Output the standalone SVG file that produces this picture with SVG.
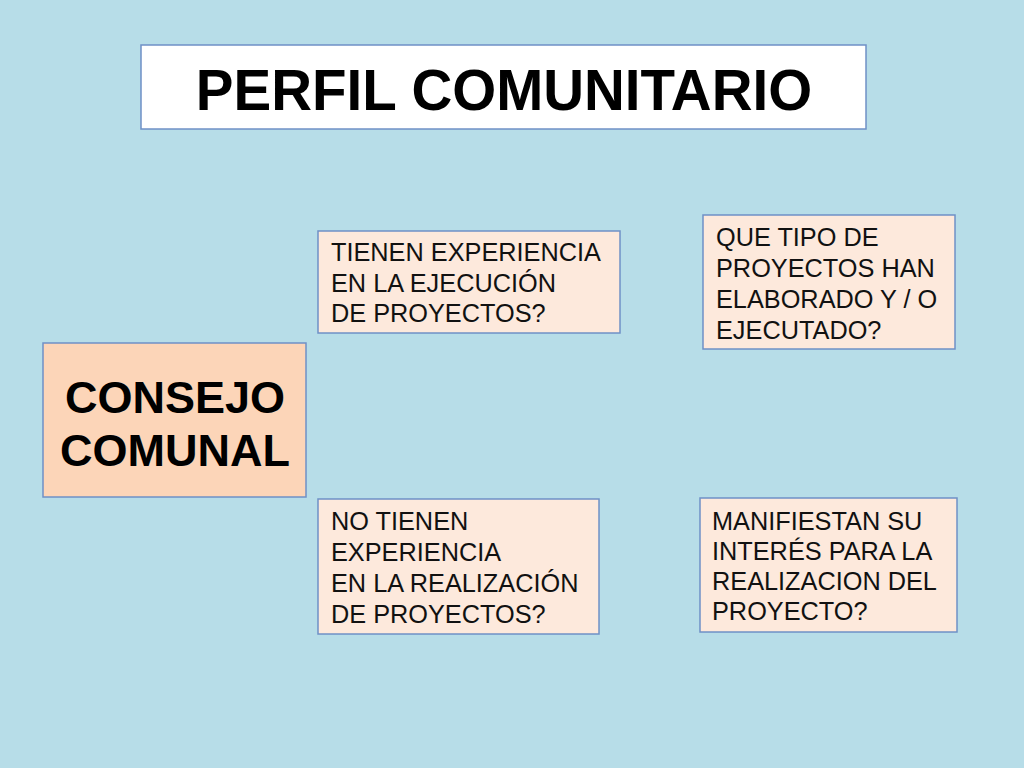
<svg xmlns="http://www.w3.org/2000/svg" width="1024" height="768" viewBox="0 0 1024 768">
<style>
.box{fill:#fde9dc;stroke:#6f90c6;stroke-width:1.5}
.t{font-family:"Liberation Sans",Arial,sans-serif;font-size:25.3px;fill:#111}
.b{font-family:"Liberation Sans",Arial,sans-serif;font-weight:bold;fill:#000}
</style>
<rect width="1024" height="768" fill="#b7dde8"/>
<g id="title">
<rect x="141" y="45" width="725" height="84" fill="#ffffff" stroke="#6f90c6" stroke-width="1.5"/>
<text class="b" x="504" y="110" font-size="56.5" text-anchor="middle">PERFIL COMUNITARIO</text>
</g>
<g id="consejo">
<rect x="43" y="343" width="263" height="154" fill="#fcd5b8" stroke="#6f90c6" stroke-width="1.5"/>
<text class="b" x="175" y="413" font-size="45" text-anchor="middle">CONSEJO</text>
<text class="b" x="175" y="466" font-size="45" text-anchor="middle">COMUNAL</text>
</g>
<g id="experiencia">
<rect class="box" x="318" y="231" width="302" height="102"/>
<text class="t" x="331" y="261">TIENEN EXPERIENCIA</text>
<text class="t" x="331" y="292">EN LA EJECUCIÓN</text>
<text class="t" x="331" y="322">DE PROYECTOS?</text>
</g>
<g id="tipo">
<rect class="box" x="703" y="215" width="252" height="134"/>
<text class="t" x="716" y="246">QUE TIPO DE</text>
<text class="t" x="716" y="277">PROYECTOS HAN</text>
<text class="t" x="716" y="308">ELABORADO Y / O</text>
<text class="t" x="716" y="339">EJECUTADO?</text>
</g>
<g id="no-experiencia">
<rect class="box" x="318" y="499" width="281" height="135"/>
<text class="t" x="331" y="530">NO TIENEN</text>
<text class="t" x="331" y="561">EXPERIENCIA</text>
<text class="t" x="331" y="592">EN LA REALIZACIÓN</text>
<text class="t" x="331" y="623">DE PROYECTOS?</text>
</g>
<g id="interes">
<rect class="box" x="700" y="498" width="257" height="134"/>
<text class="t" x="712" y="530">MANIFIESTAN SU</text>
<text class="t" x="712" y="560">INTERÉS PARA LA</text>
<text class="t" x="712" y="590">REALIZACION DEL</text>
<text class="t" x="712" y="620">PROYECTO?</text>
</g>
<g id="connectors"></g>
</svg>
